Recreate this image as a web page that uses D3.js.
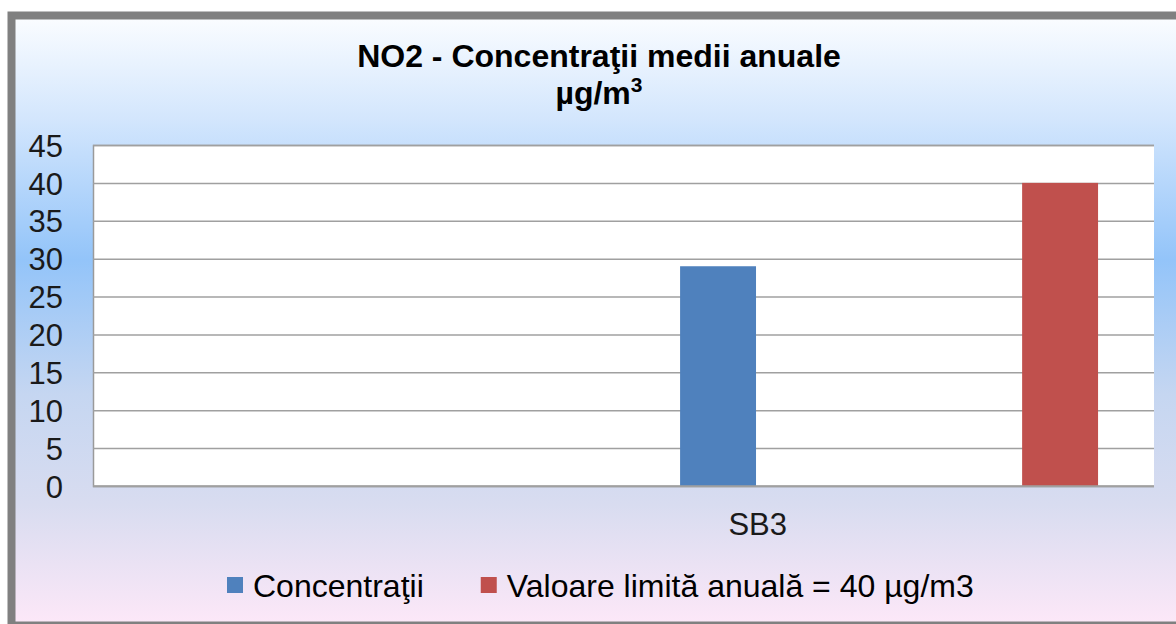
<!DOCTYPE html>
<html>
<head>
<meta charset="utf-8">
<script src="https://cdn.jsdelivr.net/npm/d3@7"></script>
<style>
  body { margin: 0; background: #fff; }
  svg { display: block; font-family: "Liberation Sans", Arial, sans-serif; }
</style>
</head>
<body>
<div id="wrapper"></div>
<script>
// data
const categories = ['SB3']
const seriesNames = ['Concentraţii', 'Valoare limită anuală = 40 µg/m3']
const seriesValues = [29, 40]
const seriesColors = ['#4f81bd', '#c0504d']
const yTicks = [0, 5, 10, 15, 20, 25, 30, 35, 40, 45]
const titleLine1 = 'NO2 - Concentraţii medii anuale'

function drawChart() {
  const dataset = seriesNames.map((name, i) => ({ name, value: seriesValues[i], color: seriesColors[i] }))

  //dimensions
  let dimensions = {
    width: 1176,
    height: 624,
    margin: { top: 145, right: 22, bottom: 138, left: 93 }
  }
  dimensions.boundedWidth = dimensions.width - dimensions.margin.left - dimensions.margin.right
  dimensions.boundedHeight = dimensions.height - dimensions.margin.top - dimensions.margin.bottom

  const wrapper = d3.select('#wrapper')
    .append('svg')
      .attr('width', dimensions.width)
      .attr('height', dimensions.height)

  // background gradient
  const defs = wrapper.append('defs')
  const grad = defs.append('linearGradient')
      .attr('id', 'bg')
      .attr('x1', 0).attr('y1', 0).attr('x2', 0).attr('y2', 1)
  const stops = [
    [0, '#fbfdff'], [0.17, '#d3e6fd'], [0.40, '#93c4f9'],
    [0.62, '#c5d6f1'], [0.80, '#d8dcf0'], [1, '#fde8f8']
  ]
  grad.selectAll('stop').data(stops).join('stop')
      .attr('offset', d => d[0])
      .attr('stop-color', d => d[1])

  // outer frame
  wrapper.append('rect')
      .attr('x', 11.5)
      .attr('y', 15.5)
      .attr('width', 1200)
      .attr('height', 610)
      .attr('fill', 'url(#bg)')
      .attr('stroke', '#808080')
      .attr('stroke-width', 8)

  const bounds = wrapper.append('g')
      .attr('transform', `translate(${dimensions.margin.left}, ${dimensions.margin.top})`)

  bounds.append('rect')
      .attr('width', dimensions.boundedWidth)
      .attr('height', dimensions.boundedHeight)
      .attr('fill', '#ffffff')

  //scales
  const yScale = d3.scaleLinear()
    .domain([0, 45])
    .range([dimensions.boundedHeight, 0])

  const xSeries = d3.scaleBand()
    .domain(seriesNames)
    .range([0, dimensions.boundedWidth])
    .paddingInner(0.778)
    .paddingOuter(0.94)
    .align(0.913)

  const xCat = d3.scalePoint()
    .domain(categories)
    .range([0, dimensions.boundedWidth])
    .align(0.626)

  //gridlines + y axis
  const yAxisGenerator = d3.axisLeft(yScale)
    .tickValues(yTicks)
    .tickSize(-dimensions.boundedWidth)
    .tickPadding(30)

  const yAxis = bounds.append('g')
      .call(yAxisGenerator)
  yAxis.select('.domain').attr('stroke', '#9a9a9a').attr('stroke-width', 1.5)
  yAxis.selectAll('.tick line').attr('stroke', '#a0a0a0').attr('stroke-width', 1.5)
  yAxis.selectAll('.tick text')
      .attr('x', -30)
      .attr('dy', '0.36em')
      .attr('font-size', 31)
      .attr('fill', '#1a1a1a')
      .style('font-family', '"Liberation Sans", Arial, sans-serif')

  //bars
  bounds.selectAll('.bar')
    .data(dataset)
    .join('rect')
      .attr('class', 'bar')
      .attr('x', d => xSeries(d.name))
      .attr('width', xSeries.bandwidth())
      .attr('y', d => yScale(d.value))
      .attr('height', d => dimensions.boundedHeight - yScale(d.value))
      .attr('fill', d => d.color)

  // redraw baseline over the bars
  bounds.append('line')
      .attr('x1', 0).attr('x2', dimensions.boundedWidth)
      .attr('y1', yScale(0)).attr('y2', yScale(0))
      .attr('stroke', '#a0a0a0').attr('stroke-width', 1.5)

  //x axis
  const xAxis = bounds.append('g')
      .attr('transform', `translate(0, ${dimensions.boundedHeight})`)
      .call(d3.axisBottom(xCat).tickSize(0).tickPadding(27))
  xAxis.select('.domain').remove()
  xAxis.selectAll('.tick text')
      .attr('font-size', 31)
      .attr('fill', '#1a1a1a')
      .style('font-family', '"Liberation Sans", Arial, sans-serif')

  //title
  const title = wrapper.append('text')
      .attr('x', 599)
      .attr('y', 67)
      .attr('text-anchor', 'middle')
      .attr('font-weight', 'bold')
      .attr('font-size', 32)
      .attr('fill', '#000')
      .text(titleLine1)

  const title2 = wrapper.append('text')
      .attr('x', 599)
      .attr('y', 104)
      .attr('text-anchor', 'middle')
      .attr('font-weight', 'bold')
      .attr('font-size', 32)
      .attr('fill', '#000')
  title2.append('tspan').text('µg/m')
  title2.append('tspan')
      .attr('font-size', 21)
      .attr('dy', -12)
      .text('3')

  //legend
  const legend = wrapper.append('g')
      .attr('transform', 'translate(227, 577)')
  let offset = 0
  dataset.forEach(d => {
    const item = legend.append('g').attr('transform', `translate(${offset}, 0)`)
    item.append('rect')
        .attr('width', 16)
        .attr('height', 16)
        .attr('fill', d.color)
    const t = item.append('text')
        .attr('x', 26)
        .attr('y', 20)
        .attr('font-size', 32)
        .attr('fill', '#000')
        .text(d.name)
    offset += 26 + t.node().getComputedTextLength() + 57
  })
}

drawChart()
</script>
</body>
</html>
